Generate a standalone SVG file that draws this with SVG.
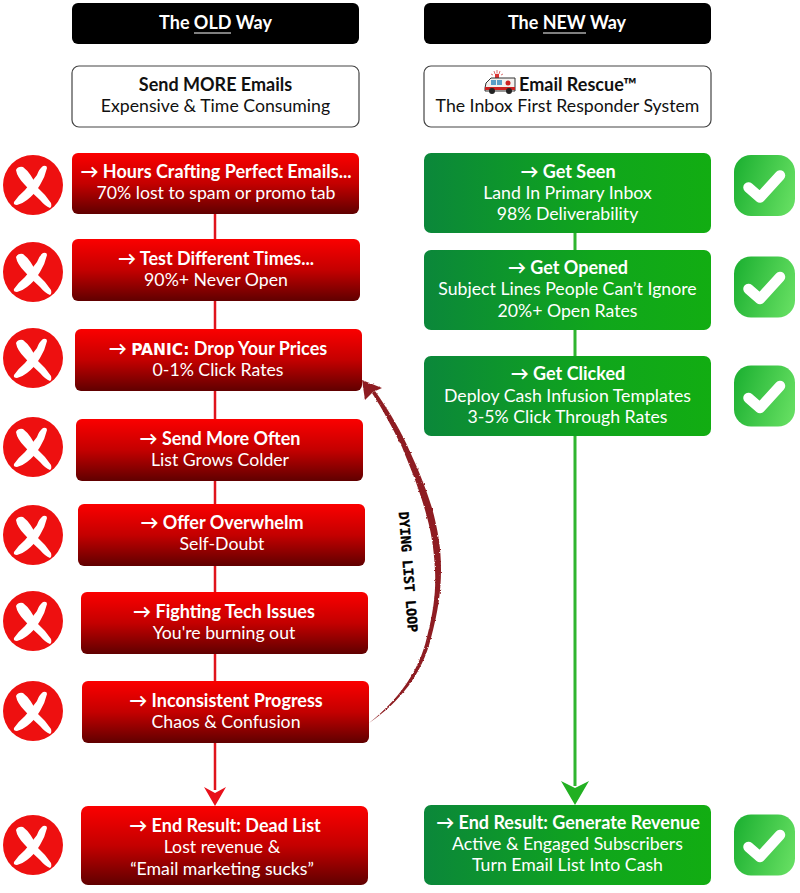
<svg xmlns="http://www.w3.org/2000/svg" width="800" height="893" viewBox="0 0 800 893">
<style>
text{font-family:Lato,"Open Sans","Liberation Sans",sans-serif;font-size:17.7px;text-anchor:middle}
.b{font-weight:700;font-size:18px}
.w{fill:#fff}
.k{fill:#111}
.red{fill:url(#redG)}
.green{fill:url(#greenG)}
.head{fill:#000}
.white{fill:#fff;stroke:#444;stroke-width:1.2}
.loop{font-family:"DejaVu Sans Mono",monospace;font-weight:700;font-size:13.4px;fill:#000;stroke:#000;stroke-width:.35}
.panic{font-family:"DejaVu Sans",sans-serif;font-weight:700;font-size:15.5px}
.rule{stroke:#fff;stroke-width:1}
</style>
<defs>
<linearGradient id="redG" x1="0" y1="0" x2="0" y2="1"><stop offset="0" stop-color="#fb0000"/><stop offset=".5" stop-color="#c40000"/><stop offset="1" stop-color="#600000"/></linearGradient>
<linearGradient id="greenG" x1="0" y1="0" x2="1" y2="0"><stop offset="0" stop-color="#0b873a"/><stop offset=".6" stop-color="#10a61c"/><stop offset="1" stop-color="#12ad12"/></linearGradient>
<linearGradient id="checkG" x1="0" y1=".3" x2="1" y2=".6"><stop offset="0" stop-color="#1fb233"/><stop offset="1" stop-color="#63dd60"/></linearGradient>
<filter id="rough" x="-10%" y="-10%" width="120%" height="120%"><feTurbulence type="fractalNoise" baseFrequency="0.35" numOctaves="2" seed="4"/><feDisplacementMap in="SourceGraphic" scale="2.4" xChannelSelector="R" yChannelSelector="G"/></filter>
<g id="xIcon"><circle r="30" fill="#ee1010"/><path fill="#fff" d="M-17,-15Q-15,-19 -10,-18Q-2,-12 4,2Q12,9 18,18Q19,22 17,23Q12,21 7,15Q-1,8 -8,0Q-16,-8 -17,-15Z"/><path fill="#fff" d="M10,-19Q14,-20 14,-17Q12,-8 7,0Q1,10 -6,15Q-11,19 -16,20Q-20,20 -19,17Q-14,10 -8,5Q-2,-2 4,-10Q6,-16 10,-19Z"/></g>
<g id="checkIcon"><rect x="-30.500" y="-30.500" width="61" height="61" rx="17" fill="url(#checkG)"/><path d="M-16,2L-4.500,12L15.500,-10" fill="none" stroke="#fff" stroke-width="10.500" stroke-linecap="round" stroke-linejoin="round"/></g>
</defs>

<g id="connectors">
<path d="M215 214V790" stroke="#e0141c" stroke-width="2.500" fill="none"/>
<path d="M215 806L204 787L215 793L226 787Z" fill="#e8101a"/>
<path d="M575 233V786" stroke="#2fb52f" stroke-width="3" fill="none"/>
<path d="M575 805L561 781L575 788L589 781Z" fill="#22b022"/>
<g id="loop-arrow" filter="url(#rough)" fill="#8e1f22">
<path d="M369 723C398 700 419 672 427 637C434 610 436 590 435 570C434 548 431 530 425 510C417 482 409 465 402 447C392 427 383 410 372 393L375 391C387 408 397 424 407 445C416 465 424 482 432 508C438 530 441 548 441 570C441 592 438 612 431 638C422 674 400 702 369 723Z"/>
<path d="M362 380L382 388L373 392L365 400Z"/>
</g>
</g>

<g id="old-header"><rect class="head" x="72" y="3" width="287" height="41" rx="6"/><text class="b w" x="215.500" y="28.500">The OLD Way</text><path class="rule" d="M194 33H231"/></g>
<g id="new-header"><rect class="head" x="424" y="3" width="287" height="41" rx="6"/><text class="b w" x="567" y="28.500">The NEW Way</text><path class="rule" d="M543 33H586"/></g>

<g id="old-title"><rect class="white" x="72" y="66" width="287" height="61" rx="7"/><text class="b k" x="215.500" y="91">Send MORE Emails</text><text class="k" x="215.500" y="112">Expensive &amp; Time Consuming</text></g>
<g id="new-title"><rect class="white" x="424" y="66" width="287" height="61" rx="7"/>
<g id="ambulance">
<path d="M495 74L494 71M497 73.500V70M499 74L500 71M493 75L491 74M501 75L503 74" stroke="#c33" stroke-width=".7" fill="none"/>
<rect x="495" y="74" width="4" height="4" fill="#d33"/>
<path d="M485 88L486 83L491 78H515V91H485Z" fill="#f3f1ee" stroke="#333" stroke-width="1"/>
<rect x="491" y="80" width="5" height="5" fill="#5a9fc8"/><rect x="497" y="80" width="5" height="5" fill="#5a9fc8"/>
<path d="M485 87H515V90H485Z" fill="#c22"/>
<circle cx="508" cy="83" r="2.500" fill="#c22"/>
<circle cx="492" cy="91" r="3" fill="#222"/><circle cx="509" cy="91" r="3" fill="#222"/>
</g>
<text class="b k" x="578" y="91">Email Rescue™</text><text class="k" x="567.500" y="112">The Inbox First Responder System</text></g>

<g id="old-1"><rect class="red" x="72" y="153" width="287" height="61" rx="6"/><text class="b w" x="216" y="178">→ Hours Crafting Perfect Emails...</text><text class="w" x="216" y="199">70% lost to spam or promo tab</text></g>
<g id="old-2"><rect class="red" x="72" y="239" width="288" height="62" rx="6"/><text class="b w" x="216" y="265">→ Test Different Times...</text><text class="w" x="216" y="286">90%+ Never Open</text></g>
<g id="old-3"><rect class="red" x="75" y="329" width="287" height="62" rx="6"/><text class="b w" x="218" y="355">→ <tspan class="panic">PANIC:</tspan> Drop Your Prices</text><text class="w" x="218" y="376">0-1% Click Rates</text></g>
<g id="old-4"><rect class="red" x="76" y="419" width="287" height="62" rx="6"/><text class="b w" x="220" y="445">→ Send More Often</text><text class="w" x="220" y="466">List Grows Colder</text></g>
<g id="old-5"><rect class="red" x="78" y="504" width="287" height="62" rx="6"/><text class="b w" x="222" y="529">→ Offer Overwhelm</text><text class="w" x="222" y="550">Self-Doubt</text></g>
<g id="old-6"><rect class="red" x="81" y="592" width="287" height="62" rx="6"/><text class="b w" x="224" y="618">→ Fighting Tech Issues</text><text class="w" x="224" y="639">You're burning out</text></g>
<g id="old-7"><rect class="red" x="82" y="681" width="287" height="62" rx="6"/><text class="b w" x="226" y="707">→ Inconsistent Progress</text><text class="w" x="226" y="728">Chaos &amp; Confusion</text></g>
<g id="old-end"><rect class="red" x="81" y="806" width="287" height="79" rx="7"/><text class="b w" x="225" y="832">→ End Result: Dead List</text><text class="w" x="222" y="853">Lost revenue &amp;</text><text class="w" x="222" y="875">“Email marketing sucks”</text></g>

<g id="new-1"><rect class="green" x="424" y="153" width="287" height="80" rx="7"/><text class="b w" x="568" y="178">→ Get Seen</text><text class="w" x="567.500" y="199">Land In Primary Inbox</text><text class="w" x="567.500" y="220">98% Deliverability</text></g>
<g id="new-2"><rect class="green" x="424" y="250" width="287" height="80" rx="7"/><text class="b w" x="568" y="274">→ Get Opened</text><text class="w" x="567.500" y="295">Subject Lines People Can’t Ignore</text><text class="w" x="567.500" y="317">20%+ Open Rates</text></g>
<g id="new-3"><rect class="green" x="424" y="356" width="287" height="80" rx="7"/><text class="b w" x="568" y="380">→ Get Clicked</text><text class="w" x="567.500" y="402">Deploy Cash Infusion Templates</text><text class="w" x="567.500" y="423">3-5% Click Through Rates</text></g>
<g id="new-end"><rect class="green" x="424" y="805" width="287" height="80" rx="7"/><text class="b w" x="568" y="829">→ End Result: Generate Revenue</text><text class="w" x="567.500" y="850">Active &amp; Engaged Subscribers</text><text class="w" x="567.500" y="871">Turn Email List Into Cash</text></g>

<g id="x-icons">
<use href="#xIcon" x="33" y="185"/><use href="#xIcon" x="33" y="272"/><use href="#xIcon" x="33" y="358"/><use href="#xIcon" x="33" y="447"/><use href="#xIcon" x="33" y="535"/><use href="#xIcon" x="33" y="621"/><use href="#xIcon" x="33" y="711"/><use href="#xIcon" x="33" y="845"/>
</g>
<g id="check-icons">
<use href="#checkIcon" x="764.500" y="185.500"/><use href="#checkIcon" x="764.500" y="287"/><use href="#checkIcon" x="764.500" y="396"/><use href="#checkIcon" x="764.500" y="845"/>
</g>
<g id="loop-label"><text class="loop" transform="translate(407.500 572) rotate(85.500)" y="4">DYING LIST LOOP</text></g>
</svg>
